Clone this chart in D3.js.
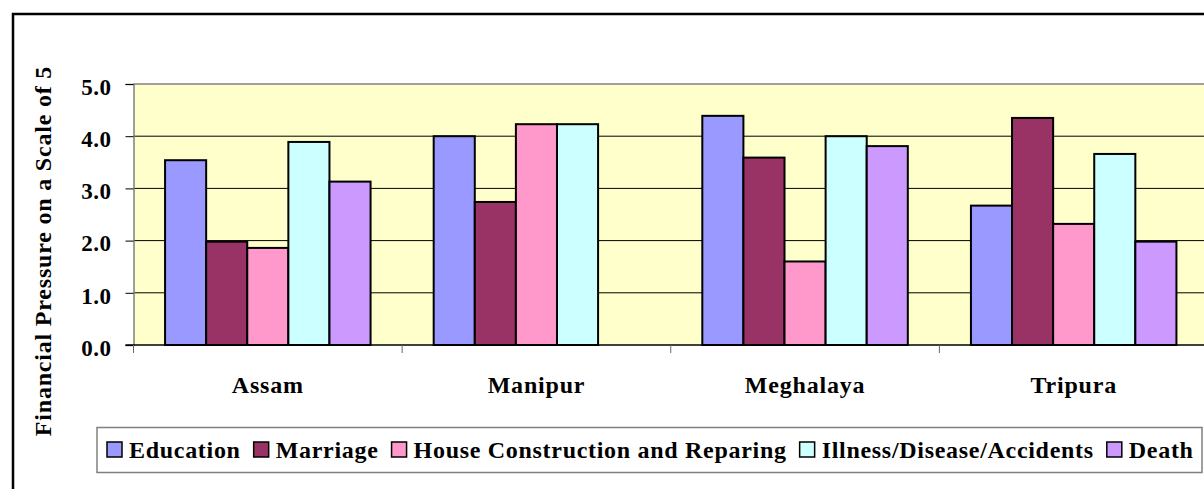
<!DOCTYPE html>
<html>
<head>
<meta charset="utf-8">
<script src="https://cdn.jsdelivr.net/npm/d3@7"></script>
<style>
  body { margin: 0; background: #fff; }
  text { font-family: "Liberation Serif", "Times New Roman", serif; font-weight: bold; }
</style>
</head>
<body>
<svg id="chart" width="1204" height="489"></svg>
<script>
// values
const categories = ["Assam", "Manipur", "Meghalaya", "Tripura"];
const seriesNames = ["Education", "Marriage", "House Construction and Reparing", "Illness/Disease/Accidents", "Death"];
const education = [3.54, 4.00, 4.39, 2.67];
const marriage = [1.98, 2.74, 3.59, 4.35];
const house = [1.86, 4.23, 1.60, 2.32];
const illness = [3.89, 4.23, 4.00, 3.66];
const death = [3.13, null, 3.81, 1.98];
const yTicks = [0, 1, 2, 3, 4, 5];
const colors = ["#9999FF", "#993366", "#FF99CC", "#CCFFFF", "#CC99FF"];

const series = [education, marriage, house, illness, death];

const svg = d3.select("#chart");

// outer chart frame (runs off the right and bottom edge)
svg.append("rect")
  .attr("x", 13).attr("y", 14)
  .attr("width", 1300).attr("height", 600)
  .attr("fill", "#fff")
  .attr("stroke", "#000")
  .attr("stroke-width", 2.5);

const plot = { left: 133.5, top: 84, right: 1208, bottom: 345 };

const x = d3.scaleBand()
  .domain(categories)
  .range([plot.left, plot.right])
  .paddingInner(0.235)
  .paddingOuter(0.1175);

const xs = d3.scaleBand()
  .domain(d3.range(seriesNames.length))
  .range([0, x.bandwidth()]);

const y = d3.scaleLinear()
  .domain([0, 5])
  .range([plot.bottom, plot.top]);

// plot background
svg.append("rect")
  .attr("x", plot.left).attr("y", plot.top)
  .attr("width", plot.right - plot.left).attr("height", plot.bottom - plot.top)
  .attr("fill", "#FFFFCC");

svg.append("line")
  .attr("x1", plot.left).attr("x2", plot.right)
  .attr("y1", plot.top).attr("y2", plot.top)
  .attr("stroke", "#808080").attr("stroke-width", 1.5);

// gridlines
svg.selectAll("line.grid")
  .data(yTicks.filter(d => d > 0 && d < 5))
  .enter().append("line")
  .attr("class", "grid")
  .attr("x1", plot.left).attr("x2", plot.right)
  .attr("y1", d => y(d)).attr("y2", d => y(d))
  .attr("stroke", "#000").attr("stroke-width", 1);

// bars
const bars = [];
series.forEach((vals, s) => {
  vals.forEach((v, i) => {
    if (v != null) bars.push({ s: s, cat: categories[i], value: v });
  });
});

svg.selectAll("rect.bar")
  .data(bars)
  .enter().append("rect")
  .attr("class", "bar")
  .attr("x", d => x(d.cat) + xs(d.s))
  .attr("y", d => y(d.value))
  .attr("width", xs.bandwidth())
  .attr("height", d => y(0) - y(d.value))
  .attr("fill", d => colors[d.s])
  .attr("stroke", "#000")
  .attr("stroke-width", 2);

// y axis
const yAxis = d3.axisLeft(y)
  .tickValues(yTicks)
  .tickFormat(d3.format(".1f"))
  .tickSize(8)
  .tickPadding(14);

const gy = svg.append("g")
  .attr("transform", `translate(${plot.left},0)`)
  .call(yAxis);
gy.select(".domain").attr("stroke", "#808080").attr("stroke-width", 1.5);
gy.selectAll(".tick line").attr("stroke", "#000");
gy.selectAll(".tick text")
  .attr("fill", "#000")
  .attr("dy", "0.45em")
  .attr("font-size", "23px")
  .attr("letter-spacing", "0.5px")
  .attr("font-family", "Liberation Serif")
  .attr("font-weight", "bold");

// x axis
const gx = svg.append("g")
  .attr("transform", `translate(0,${plot.bottom})`);
gx.append("line")
  .attr("x1", plot.left - 8).attr("x2", plot.right)
  .attr("y1", 0).attr("y2", 0)
  .attr("stroke", "#000").attr("stroke-width", 1.5);
gx.selectAll("line.ctick")
  .data(categories)
  .enter().append("line")
  .attr("class", "ctick")
  .attr("x1", d => x(d) - x.step() * x.paddingInner() / 2)
  .attr("x2", d => x(d) - x.step() * x.paddingInner() / 2)
  .attr("y1", 0).attr("y2", 8)
  .attr("stroke", "#666");
gx.selectAll("text.clabel")
  .data(categories)
  .enter().append("text")
  .attr("class", "clabel")
  .attr("x", d => x(d) + x.bandwidth() / 2)
  .attr("y", 48)
  .attr("text-anchor", "middle")
  .attr("font-size", "24px")
  .attr("letter-spacing", "0.8px")
  .text(d => d);

// y axis title
svg.append("text")
  .attr("transform", "translate(51,251) rotate(-90)")
  .attr("text-anchor", "middle")
  .attr("font-size", "24px")
  .attr("letter-spacing", "0.8px")
  .text("Financial Pressure on a Scale of 5");

// legend
const legend = svg.append("g");
legend.append("rect")
  .attr("x", 97).attr("y", 427.5)
  .attr("width", 1105).attr("height", 45)
  .attr("fill", "#fff")
  .attr("stroke", "#808080")
  .attr("stroke-width", 1.5);

let lx = 107;
seriesNames.forEach((name, i) => {
  const item = legend.append("g");
  item.append("rect")
    .attr("x", lx).attr("y", 442)
    .attr("width", 15).attr("height", 15)
    .attr("fill", colors[i])
    .attr("stroke", "#000")
    .attr("stroke-width", 1.5);
  const t = item.append("text")
    .attr("x", lx + 22).attr("y", 457.5)
    .attr("font-size", "24px")
    .attr("letter-spacing", "0.7px")
    .text(name);
  lx += 22 + t.node().getComputedTextLength() + 13;
});
</script>
</body>
</html>
